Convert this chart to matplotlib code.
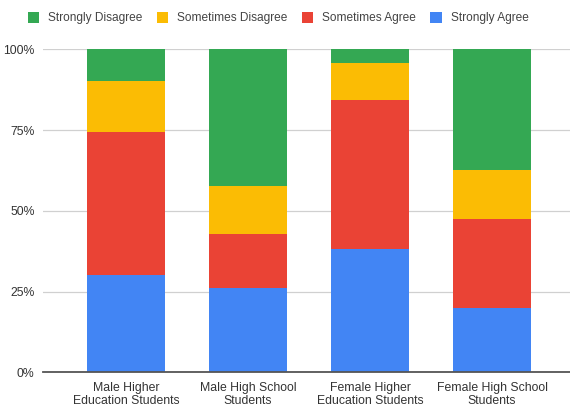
import numpy as np
import matplotlib
matplotlib.use("Agg")
import matplotlib.pyplot as plt
from matplotlib.ticker import PercentFormatter

plt.rcParams["font.family"] = ["Liberation Sans", "DejaVu Sans"]

groups = [
    "Male Higher\nEducation Students",
    "Male High School\nStudents",
    "Female Higher\nEducation Students",
    "Female High School\nStudents",
]

# share of answers per group (percent), bottom to top
strongly_agree = [30.0, 26.0, 38.1, 20.0]
sometimes_agree = [44.5, 16.8, 46.2, 27.5]
sometimes_disagree = [15.8, 14.9, 11.6, 15.0]
strongly_disagree = [9.7, 42.3, 4.1, 37.5]

series = [
    ("Strongly Agree", strongly_agree, "#4285F4"),
    ("Sometimes Agree", sometimes_agree, "#EA4335"),
    ("Sometimes Disagree", sometimes_disagree, "#FBBC04"),
    ("Strongly Disagree", strongly_disagree, "#34A853"),
]

fig = plt.figure(figsize=(5.7, 4.12), dpi=100)
ax = fig.add_axes([43 / 570, 0.0961, 532 / 570, 0.7842])

x = np.arange(len(groups))
bottom = np.zeros(len(groups))
handles = []
for name, vals, color in series:
    vals = np.array(vals)
    bars = ax.bar(x, vals, width=0.64, bottom=bottom, color=color,
                  label=name, zorder=3)
    handles.append(bars)
    bottom += vals

ax.set_ylim(0, 100)
ax.set_xlim(-0.68, 3.68)
ax.set_yticks([0, 25, 50, 75, 100])
ax.yaxis.set_major_formatter(PercentFormatter(decimals=0))
ax.set_xticks(x)
ax.set_xticklabels(groups, fontsize=8.8, color="#333333", linespacing=1.05)
ax.tick_params(axis="y", labelsize=8.8, labelcolor="#333333", length=0, pad=6)
ax.tick_params(axis="x", length=0, pad=7)

ax.grid(axis="y", color="#d0d0d0", linewidth=0.9, zorder=0)
for side in ["top", "right", "left"]:
    ax.spines[side].set_visible(False)
ax.spines["bottom"].set_color("#555555")
ax.spines["bottom"].set_linewidth(1.3)
ax.spines["bottom"].set_zorder(4)

fig.legend(handles[::-1], [s[0] for s in series[::-1]],
           loc="center left", bbox_to_anchor=(17 / 570, 1 - 18 / 412),
           ncol=4, frameon=False, fontsize=8.6, labelcolor="#444444",
           handlelength=0.95, handleheight=1.15, handletextpad=0.75,
           columnspacing=1.2)

fig.savefig("out.png", dpi=100)
